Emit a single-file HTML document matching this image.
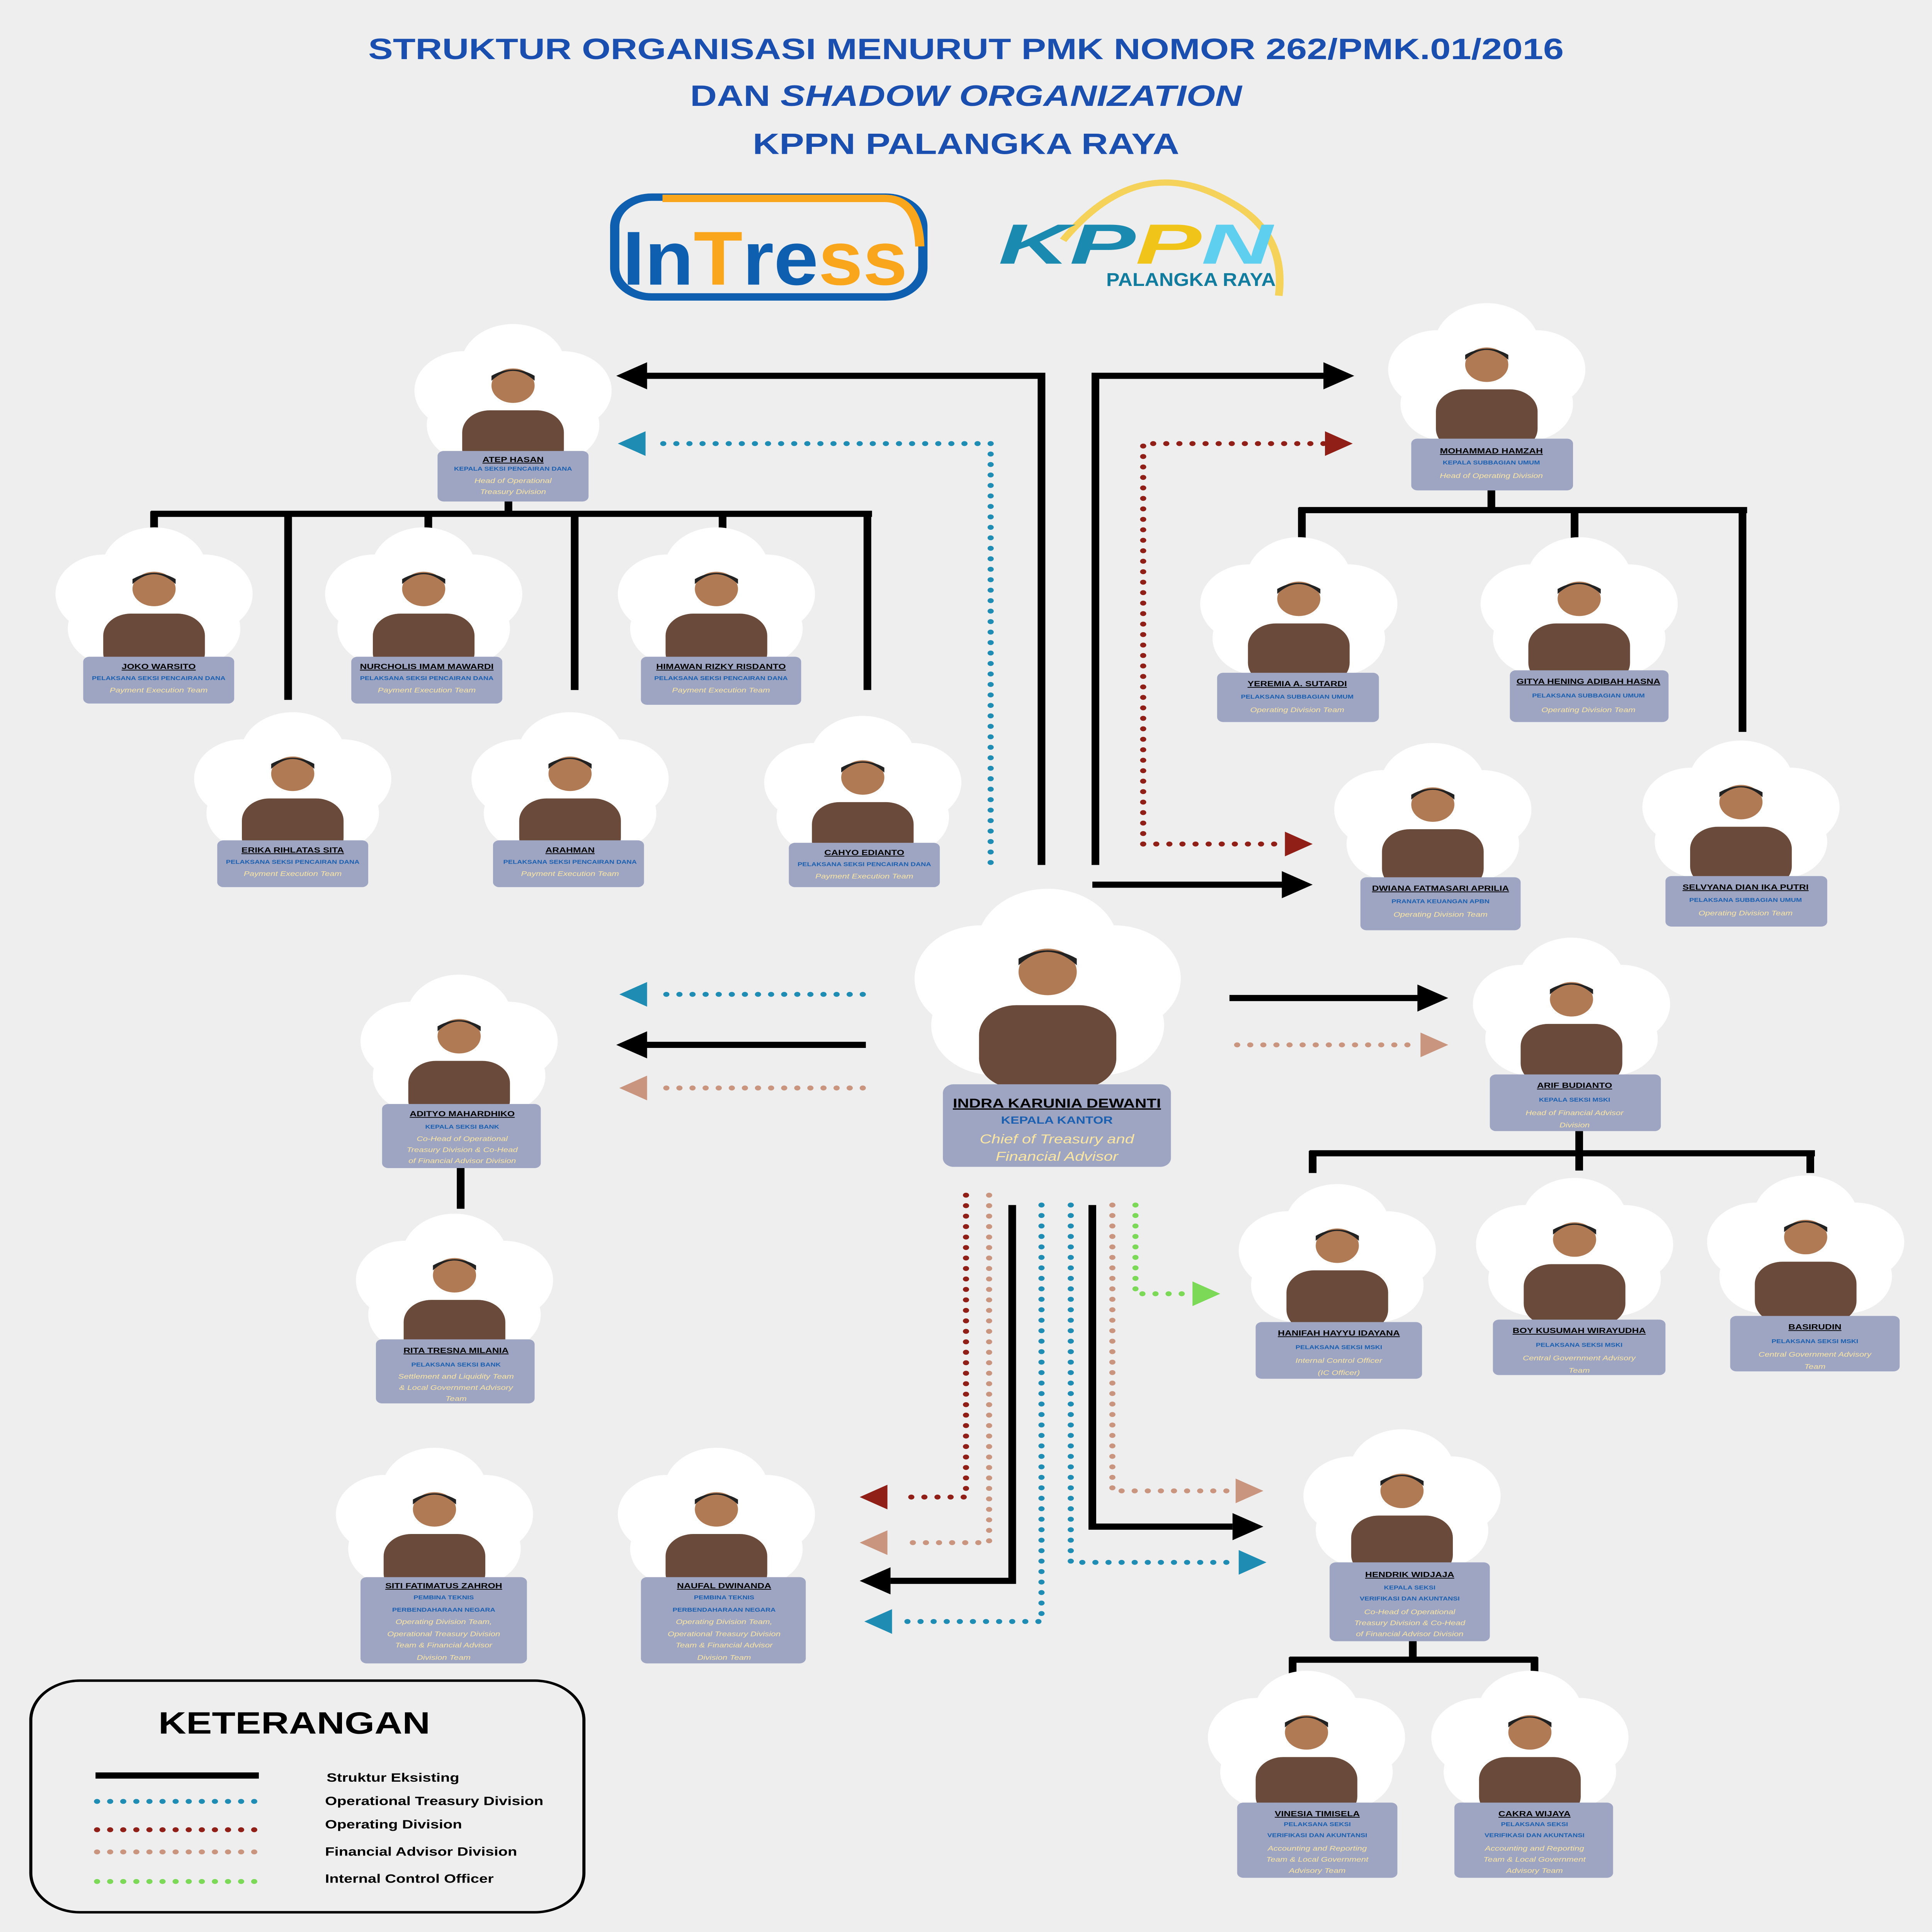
<!DOCTYPE html>
<html><head><meta charset="utf-8">
<style>
html,body{margin:0;padding:0;background:#eeeeee;width:100vw;height:100vh;overflow:hidden;}
svg{display:block;position:fixed;left:0;top:0;width:100vw;height:100vh;}
.nm{font-family:"Liberation Sans",sans-serif;font-weight:bold;font-size:6.2px;fill:#000;text-decoration:underline;text-anchor:middle}
.rl{font-family:"Liberation Sans",sans-serif;font-weight:bold;font-size:4.6px;fill:#1a5fb0;text-anchor:middle}
.en{font-family:"Liberation Sans",sans-serif;font-style:italic;font-size:5.6px;fill:#fbe6a2;text-anchor:middle}
.t{font-family:"Liberation Sans",sans-serif;font-weight:bold;font-size:24px;fill:#1a4fb0;text-anchor:middle}
.lg{font-family:"Liberation Sans",sans-serif;font-weight:bold;font-size:10px;fill:#000}
.bk{stroke:#000;stroke-width:5;fill:none;stroke-linecap:butt}
.db{stroke:#1f8db3;stroke-width:4;fill:none;stroke-dasharray:0 8.5;stroke-linecap:round}
.dr{stroke:#8f1f17;stroke-width:4;fill:none;stroke-dasharray:0 8.5;stroke-linecap:round}
.dt{stroke:#c9957f;stroke-width:4;fill:none;stroke-dasharray:0 8.5;stroke-linecap:round}
.dg{stroke:#7bd957;stroke-width:4;fill:none;stroke-dasharray:0 8.5;stroke-linecap:round}
.box{fill:#9ea5c2}
</style></head><body>
<svg viewBox="0 0 1254 1568" preserveAspectRatio="none" xmlns="http://www.w3.org/2000/svg">
<rect width="1254" height="1568" fill="#eeeeee"/>
<defs>
<g id="cl"><circle cx="-32" cy="-8" r="32" fill="#fff"/><circle cx="0" cy="-28" r="34" fill="#fff"/><circle cx="32" cy="-8" r="32" fill="#fff"/><circle cx="-26" cy="20" r="30" fill="#fff"/><circle cx="26" cy="20" r="30" fill="#fff"/><circle cx="0" cy="8" r="38" fill="#fff"/></g>
<g id="pp"><rect x="-33" y="8" width="66" height="50" rx="18" fill="#6a4a3a"/><circle cx="0" cy="-12" r="14" fill="#b07a55"/><path d="M-14,-16 Q0,-32 14,-16 L14,-20 Q0,-30 -14,-20Z" fill="#222"/></g>
</defs>

<text class="t" x="627" y="48">STRUKTUR ORGANISASI MENURUT PMK NOMOR 262/PMK.01/2016</text>
<text class="t" x="627" y="86">DAN <tspan font-style="italic">SHADOW ORGANIZATION</tspan></text>
<text class="t" x="627" y="125">KPPN PALANGKA RAYA</text>

<rect x="399" y="160" width="200" height="81" rx="24" fill="none" stroke="#0e5fb0" stroke-width="6"/>
<path d="M430,161 L574,161 Q596,161 597,200" fill="none" stroke="#f9a61d" stroke-width="6"/>
<text x="404" y="231" font-family="Liberation Sans,sans-serif" font-weight="bold" font-size="62" fill="#0e5fb0" textLength="185" lengthAdjust="spacingAndGlyphs">In<tspan fill="#f9a61d">T</tspan>re<tspan fill="#f9a61d">ss</tspan></text>
<path d="M690,195 Q740,120 800,165 Q835,190 830,240" fill="none" stroke="#f5d35a" stroke-width="5"/>
<text x="648" y="214" font-family="Liberation Sans,sans-serif" font-weight="bold" font-style="italic" font-size="46" fill="#1a8ab0" textLength="178" lengthAdjust="spacingAndGlyphs">KP<tspan fill="#f0c419">P</tspan><tspan fill="#5fcff0">N</tspan></text>
<text x="718" y="232" font-family="Liberation Sans,sans-serif" font-weight="bold" font-size="15" fill="#127c9e" textLength="110" lengthAdjust="spacingAndGlyphs">PALANGKA RAYA</text>

<path class="bk" d="M330,406 V417 M98,417 H566 M100,415 V436 M187,415 V568 M278,415 V432 M373,415 V560 M469,415 V430 M563,415 V560"/>
<path class="bk" d="M968,398 V414 M843,414 H1134 M845,412 V437 M1022,412 V438 M1131,412 V594"/>
<path class="bk" d="M1025,918 V936 M850,936 H1178 M852,934 V952 M1025,934 V950 M1175,934 V952"/>
<path class="bk" d="M299,948 V981"/>
<path class="bk" d="M917,1332 V1347 M837,1347 H998 M839,1345 V1362 M996,1345 V1362"/>

<path class="bk" d="M676,702 V305 H418"/><polygon points="400,305 420,294 420,316" fill="#000"/>
<path class="bk" d="M711,702 V305 H862"/><polygon points="879,305 859,294 859,316" fill="#000"/>
<path class="bk" d="M709,718 H835"/><polygon points="852,718 832,707 832,729" fill="#000"/>
<path class="db" d="M643,700 V360 H422"/><polygon points="401,360 419,350 419,370" fill="#1f8db3"/>
<path class="dr" d="M742,685 V360 H860"/><polygon points="878,360 860,350 860,370" fill="#8f1f17"/>
<path class="dr" d="M742,685 H832"/><polygon points="852,685 834,675 834,695" fill="#8f1f17"/>

<path class="db" d="M560,807 H426"/><polygon points="402,807 420,797 420,817" fill="#1f8db3"/>
<path class="bk" d="M562,848 H418"/><polygon points="400,848 420,837 420,859" fill="#000"/>
<path class="dt" d="M560,883 H426"/><polygon points="402,883 420,873 420,893" fill="#c9957f"/>
<path class="bk" d="M798,810 H922"/><polygon points="940,810 920,799 920,821" fill="#000"/>
<path class="dt" d="M803,848 H918"/><polygon points="940,848 922,838 922,858" fill="#c9957f"/>

<path class="dr" d="M627,970 V1215 H584"/><polygon points="558,1215 576,1205 576,1225" fill="#8f1f17"/>
<path class="dt" d="M642,970 V1252 H584"/><polygon points="558,1252 576,1242 576,1262" fill="#c9957f"/>
<path class="bk" d="M657,978 V1283 H578"/><polygon points="558,1283 578,1272 578,1294" fill="#000"/>
<path class="db" d="M676,978 V1316 H586"/><polygon points="561,1316 579,1306 579,1326" fill="#1f8db3"/>
<path class="db" d="M695,978 V1268 H800"/><polygon points="822,1268 804,1258 804,1278" fill="#1f8db3"/>
<path class="bk" d="M709,978 V1239 H800"/><polygon points="820,1239 800,1228 800,1250" fill="#000"/>
<path class="dt" d="M722,978 V1210 H798"/><polygon points="820,1210 802,1200 802,1220" fill="#c9957f"/>
<path class="dg" d="M737,978 V1050 H772"/><polygon points="792,1050 774,1040 774,1060" fill="#7bd957"/>

<g transform="translate(333,325)"><use href="#cl"/><use href="#pp"/></g>
<rect class="box" x="284" y="366" width="98" height="41" rx="4"/>
<text class="nm" x="333" y="375">ATEP HASAN</text><text class="rl" x="333" y="382">KEPALA SEKSI PENCAIRAN DANA</text><text class="en" x="333" y="392">Head of Operational</text><text class="en" x="333" y="401">Treasury Division</text>

<g transform="translate(965,308)"><use href="#cl"/><use href="#pp"/></g>
<rect class="box" x="916" y="356" width="105" height="42" rx="4"/>
<text class="nm" x="968" y="368">MOHAMMAD HAMZAH</text><text class="rl" x="968" y="377">KEPALA SUBBAGIAN UMUM</text><text class="en" x="968" y="388">Head of Operating Division</text>

<g transform="translate(100,490)"><use href="#cl"/><use href="#pp"/></g>
<rect class="box" x="54" y="533" width="98" height="38" rx="4"/>
<text class="nm" x="103" y="543">JOKO WARSITO</text><text class="rl" x="103" y="552">PELAKSANA SEKSI PENCAIRAN DANA</text><text class="en" x="103" y="562">Payment Execution Team</text>

<g transform="translate(275,490)"><use href="#cl"/><use href="#pp"/></g>
<rect class="box" x="228" y="533" width="98" height="38" rx="4"/>
<text class="nm" x="277" y="543">NURCHOLIS IMAM MAWARDI</text><text class="rl" x="277" y="552">PELAKSANA SEKSI PENCAIRAN DANA</text><text class="en" x="277" y="562">Payment Execution Team</text>

<g transform="translate(465,490)"><use href="#cl"/><use href="#pp"/></g>
<rect class="box" x="416" y="533" width="104" height="39" rx="4"/>
<text class="nm" x="468" y="543">HIMAWAN RIZKY RISDANTO</text><text class="rl" x="468" y="552">PELAKSANA SEKSI PENCAIRAN DANA</text><text class="en" x="468" y="562">Payment Execution Team</text>

<g transform="translate(190,640)"><use href="#cl"/><use href="#pp"/></g>
<rect class="box" x="141" y="682" width="98" height="38" rx="4"/>
<text class="nm" x="190" y="692">ERIKA RIHLATAS SITA</text><text class="rl" x="190" y="701">PELAKSANA SEKSI PENCAIRAN DANA</text><text class="en" x="190" y="711">Payment Execution Team</text>

<g transform="translate(370,640)"><use href="#cl"/><use href="#pp"/></g>
<rect class="box" x="320" y="682" width="98" height="38" rx="4"/>
<text class="nm" x="370" y="692">ARAHMAN</text><text class="rl" x="370" y="701">PELAKSANA SEKSI PENCAIRAN DANA</text><text class="en" x="370" y="711">Payment Execution Team</text>

<g transform="translate(560,643)"><use href="#cl"/><use href="#pp"/></g>
<rect class="box" x="512" y="684" width="98" height="36" rx="4"/>
<text class="nm" x="561" y="694">CAHYO EDIANTO</text><text class="rl" x="561" y="703">PELAKSANA SEKSI PENCAIRAN DANA</text><text class="en" x="561" y="713">Payment Execution Team</text>

<g transform="translate(843,498)"><use href="#cl"/><use href="#pp"/></g>
<rect class="box" x="790" y="546" width="105" height="40" rx="4"/>
<text class="nm" x="842" y="557">YEREMIA A. SUTARDI</text><text class="rl" x="842" y="567">PELAKSANA SUBBAGIAN UMUM</text><text class="en" x="842" y="578">Operating Division Team</text>

<g transform="translate(1025,498)"><use href="#cl"/><use href="#pp"/></g>
<rect class="box" x="980" y="544" width="103" height="42" rx="4"/>
<text class="nm" x="1031" y="555">GITYA HENING ADIBAH HASNA</text><text class="rl" x="1031" y="566">PELAKSANA SUBBAGIAN UMUM</text><text class="en" x="1031" y="578">Operating Division Team</text>

<g transform="translate(930,665)"><use href="#cl"/><use href="#pp"/></g>
<rect class="box" x="883" y="712" width="104" height="43" rx="4"/>
<text class="nm" x="935" y="723">DWIANA FATMASARI APRILIA</text><text class="rl" x="935" y="733">PRANATA KEUANGAN APBN</text><text class="en" x="935" y="744">Operating Division Team</text>

<g transform="translate(1130,663)"><use href="#cl"/><use href="#pp"/></g>
<rect class="box" x="1081" y="711" width="105" height="41" rx="4"/>
<text class="nm" x="1133" y="722">SELVYANA DIAN IKA PUTRI</text><text class="rl" x="1133" y="732">PELAKSANA SUBBAGIAN UMUM</text><text class="en" x="1133" y="743">Operating Division Team</text>

<g transform="translate(680,805) scale(1.35)"><use href="#cl"/><use href="#pp"/></g>
<rect class="box" x="612" y="880" width="148" height="67" rx="7"/>
<text class="nm" x="686" y="899" style="font-size:10.5px">INDRA KARUNIA DEWANTI</text><text class="rl" x="686" y="912" style="font-size:8.5px">KEPALA KANTOR</text><text class="en" x="686" y="928" style="font-size:10.5px">Chief of Treasury and</text><text class="en" x="686" y="942" style="font-size:10.5px">Financial Advisor</text>

<g transform="translate(298,853)"><use href="#cl"/><use href="#pp"/></g>
<rect class="box" x="248" y="896" width="103" height="52" rx="4"/>
<text class="nm" x="300" y="906">ADITYO MAHARDHIKO</text><text class="rl" x="300" y="916">KEPALA SEKSI BANK</text><text class="en" x="300" y="926">Co-Head of Operational</text><text class="en" x="300" y="935">Treasury Division &amp; Co-Head</text><text class="en" x="300" y="944">of Financial Advisor Division</text>

<g transform="translate(1020,823)"><use href="#cl"/><use href="#pp"/></g>
<rect class="box" x="967" y="872" width="111" height="46" rx="4"/>
<text class="nm" x="1022" y="883">ARIF BUDIANTO</text><text class="rl" x="1022" y="894">KEPALA SEKSI MSKI</text><text class="en" x="1022" y="905">Head of Financial Advisor</text><text class="en" x="1022" y="915">Division</text>

<g transform="translate(295,1047)"><use href="#cl"/><use href="#pp"/></g>
<rect class="box" x="244" y="1087" width="103" height="52" rx="4"/>
<text class="nm" x="296" y="1098">RITA TRESNA MILANIA</text><text class="rl" x="296" y="1109">PELAKSANA SEKSI BANK</text><text class="en" x="296" y="1119">Settlement and Liquidity Team</text><text class="en" x="296" y="1128">&amp; Local Government Advisory</text><text class="en" x="296" y="1137">Team</text>

<g transform="translate(868,1023)"><use href="#cl"/><use href="#pp"/></g>
<rect class="box" x="815" y="1073" width="108" height="46" rx="4"/>
<text class="nm" x="869" y="1084">HANIFAH HAYYU IDAYANA</text><text class="rl" x="869" y="1095">PELAKSANA SEKSI MSKI</text><text class="en" x="869" y="1106">Internal Control Officer</text><text class="en" x="869" y="1116">(IC Officer)</text>

<g transform="translate(1022,1018)"><use href="#cl"/><use href="#pp"/></g>
<rect class="box" x="969" y="1071" width="112" height="45" rx="4"/>
<text class="nm" x="1025" y="1082">BOY KUSUMAH WIRAYUDHA</text><text class="rl" x="1025" y="1093">PELAKSANA SEKSI MSKI</text><text class="en" x="1025" y="1104">Central Government Advisory</text><text class="en" x="1025" y="1114">Team</text>

<g transform="translate(1172,1016)"><use href="#cl"/><use href="#pp"/></g>
<rect class="box" x="1123" y="1068" width="110" height="45" rx="4"/>
<text class="nm" x="1178" y="1079">BASIRUDIN</text><text class="rl" x="1178" y="1090">PELAKSANA SEKSI MSKI</text><text class="en" x="1178" y="1101">Central Government Advisory</text><text class="en" x="1178" y="1111">Team</text>

<g transform="translate(282,1237)"><use href="#cl"/><use href="#pp"/></g>
<rect class="box" x="234" y="1280" width="108" height="70" rx="4"/>
<text class="nm" x="288" y="1289">SITI FATIMATUS ZAHROH</text><text class="rl" x="288" y="1298">PEMBINA TEKNIS</text><text class="rl" x="288" y="1308">PERBENDAHARAAN NEGARA</text><text class="en" x="288" y="1318">Operating Division Team,</text><text class="en" x="288" y="1328">Operational Treasury Division</text><text class="en" x="288" y="1337">Team &amp; Financial Advisor</text><text class="en" x="288" y="1347">Division Team</text>

<g transform="translate(465,1237)"><use href="#cl"/><use href="#pp"/></g>
<rect class="box" x="416" y="1280" width="107" height="70" rx="4"/>
<text class="nm" x="470" y="1289">NAUFAL DWINANDA</text><text class="rl" x="470" y="1298">PEMBINA TEKNIS</text><text class="rl" x="470" y="1308">PERBENDAHARAAN NEGARA</text><text class="en" x="470" y="1318">Operating Division Team,</text><text class="en" x="470" y="1328">Operational Treasury Division</text><text class="en" x="470" y="1337">Team &amp; Financial Advisor</text><text class="en" x="470" y="1347">Division Team</text>

<g transform="translate(910,1222)"><use href="#cl"/><use href="#pp"/></g>
<rect class="box" x="863" y="1268" width="104" height="64" rx="4"/>
<text class="nm" x="915" y="1280">HENDRIK WIDJAJA</text><text class="rl" x="915" y="1290">KEPALA SEKSI</text><text class="rl" x="915" y="1299">VERIFIKASI DAN AKUNTANSI</text><text class="en" x="915" y="1310">Co-Head of Operational</text><text class="en" x="915" y="1319">Treasury Division &amp; Co-Head</text><text class="en" x="915" y="1328">of Financial Advisor Division</text>

<g transform="translate(848,1418)"><use href="#cl"/><use href="#pp"/></g>
<rect class="box" x="803" y="1463" width="104" height="61" rx="4"/>
<text class="nm" x="855" y="1474">VINESIA TIMISELA</text><text class="rl" x="855" y="1482">PELAKSANA SEKSI</text><text class="rl" x="855" y="1491">VERIFIKASI DAN AKUNTANSI</text><text class="en" x="855" y="1502">Accounting and Reporting</text><text class="en" x="855" y="1511">Team &amp; Local Government</text><text class="en" x="855" y="1520">Advisory Team</text>

<g transform="translate(993,1418)"><use href="#cl"/><use href="#pp"/></g>
<rect class="box" x="944" y="1463" width="103" height="61" rx="4"/>
<text class="nm" x="996" y="1474">CAKRA WIJAYA</text><text class="rl" x="996" y="1482">PELAKSANA SEKSI</text><text class="rl" x="996" y="1491">VERIFIKASI DAN AKUNTANSI</text><text class="en" x="996" y="1502">Accounting and Reporting</text><text class="en" x="996" y="1511">Team &amp; Local Government</text><text class="en" x="996" y="1520">Advisory Team</text>

<rect x="20" y="1364" width="359" height="188" rx="32" fill="none" stroke="#000" stroke-width="2"/>
<text x="191" y="1407" text-anchor="middle" font-family="Liberation Sans,sans-serif" font-weight="bold" font-size="25" fill="#000">KETERANGAN</text>
<path class="bk" d="M62,1441 H168" stroke-linecap="round"/>
<path class="db" d="M63,1462 H168"/>
<path class="dr" d="M63,1485 H168"/>
<path class="dt" d="M63,1503 H168"/>
<path class="dg" d="M63,1527 H168"/>
<text class="lg" x="212" y="1446">Struktur Eksisting</text>
<text class="lg" x="211" y="1465">Operational Treasury Division</text>
<text class="lg" x="211" y="1484">Operating Division</text>
<text class="lg" x="211" y="1506">Financial Advisor Division</text>
<text class="lg" x="211" y="1528">Internal Control Officer</text>
</svg>
</body></html>
